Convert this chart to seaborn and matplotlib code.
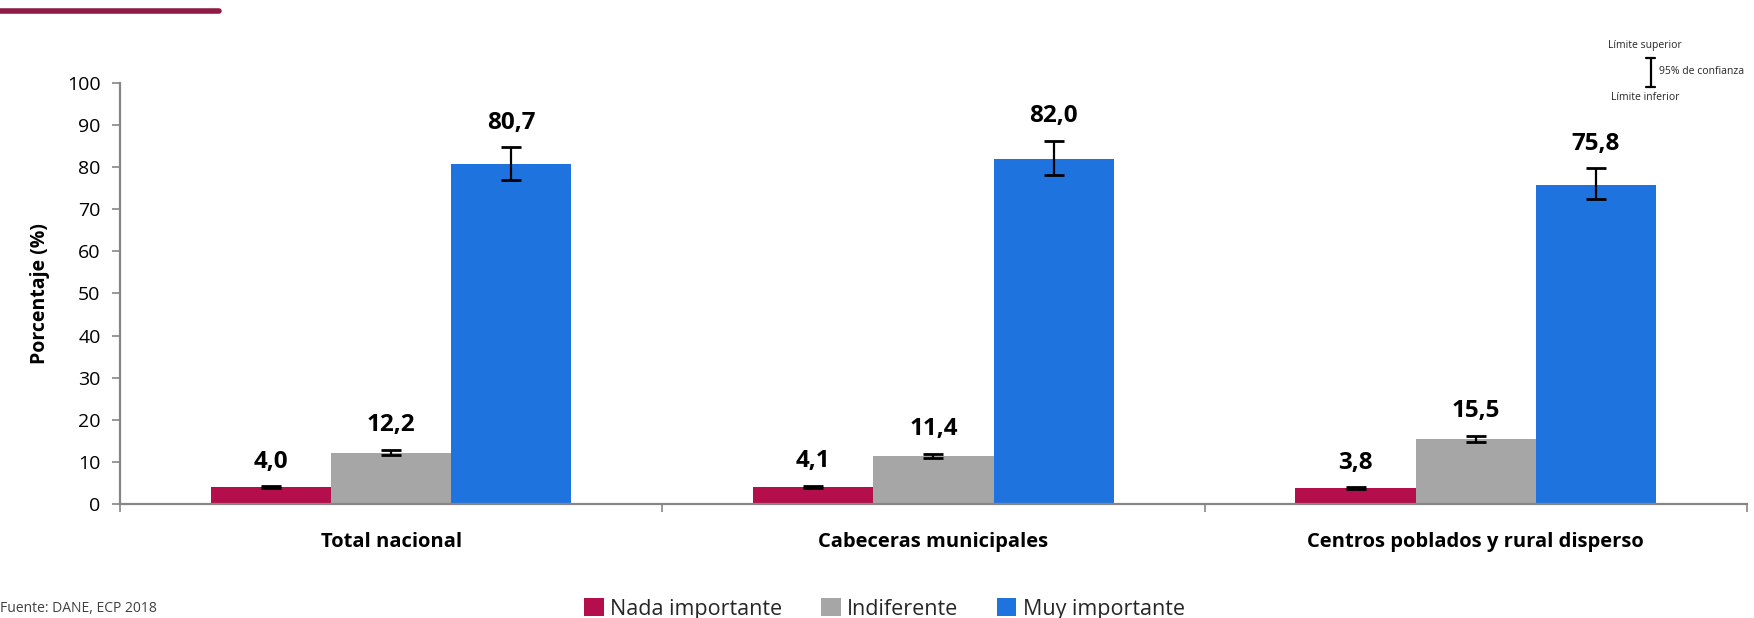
import pandas as pd
import matplotlib.pyplot as plt
import seaborn as sns
import numpy as np
from matplotlib.lines import Line2D

categorias = ['Total nacional', 'Cabeceras municipales', 'Centros poblados y rural disperso']
respuestas = ['Nada importante', 'Indiferente', 'Muy importante']
nada = [4.0, 4.1, 3.8]
indiferente = [12.2, 11.4, 15.5]
muy = [80.7, 82.0, 75.8]
# limites del intervalo de confianza (95%)
nada_inf = [3.8, 3.9, 3.6]
nada_sup = [4.2, 4.3, 4.0]
indif_inf = [11.6, 10.9, 14.8]
indif_sup = [12.9, 11.9, 16.2]
muy_inf = [77.0, 78.1, 72.4]
muy_sup = [84.7, 86.3, 79.8]
colores = ['#B50E4C', '#A6A6A6', '#1F73DF']

df = pd.DataFrame({
    'Categoria': categorias * 3,
    'Respuesta': np.repeat(respuestas, 3),
    'Valor': nada + indiferente + muy,
    'inf': nada_inf + indif_inf + muy_inf,
    'sup': nada_sup + indif_sup + muy_sup,
})

sns.set_style('white')
plt.rcParams['font.family'] = ['Open Sans', 'DejaVu Sans']

fig = plt.figure(figsize=(17.54, 6.18), dpi=100)
ax = fig.add_axes([0.0684, 0.1845, 0.9276, 0.6812])
sns.barplot(data=df, x='Categoria', y='Valor', hue='Respuesta', order=categorias,
            hue_order=respuestas, palette=colores, width=0.665, errorbar=None,
            saturation=1, linewidth=0, ax=ax)

# error bars and labels over each bar
bars = [p for p in ax.patches if p.get_height() > 0][:9]
for p, (_, row) in zip(bars, df.iterrows()):
    xc = p.get_x() + p.get_width() / 2
    v = row['Valor']
    ax.errorbar(xc, v, yerr=[[v - row['inf']], [row['sup'] - v]], fmt='none',
                ecolor='black', elinewidth=1.6, capsize=7, capthick=2)
    ax.annotate(f"{v:.1f}".replace('.', ','), (xc, row['sup']), xytext=(0, 9),
                textcoords='offset points', ha='center', va='bottom',
                fontsize=17.5, fontweight='bold', color='black')

ax.set_ylim(0, 100)
ax.set_xlim(-0.5, 2.5)
ax.set_yticks(range(0, 101, 10))
ax.tick_params(axis='y', labelsize=14, length=6, width=1.2, color='#868686', left=True, pad=8)
ax.tick_params(axis='x', which='major', length=0, pad=20)
ax.set_xticks([-0.5, 0.5, 1.5, 2.5], minor=True)
ax.tick_params(axis='x', which='minor', length=6, width=1.2, color='#868686', bottom=True)
for lab in ax.get_xticklabels():
    lab.set_fontweight('bold')
    lab.set_fontsize(14.5)
    lab.set_color('black')
for lab in ax.get_yticklabels():
    lab.set_color('black')
ax.set_xlabel('')
ax.set_ylabel('Porcentaje (%)', fontsize=14, fontweight='bold', labelpad=12, color='black')
sns.despine(ax=ax)
for s in ['left', 'bottom']:
    ax.spines[s].set_color('#868686')
    ax.spines[s].set_linewidth(1.6)

ax.legend(loc='upper center', bbox_to_anchor=(0.47, -0.178), ncol=3, frameon=False,
          fontsize=15.5, handlelength=0.9, handleheight=0.9, handletextpad=0.3, columnspacing=1.8)

# linea decorativa superior
fig.add_artist(Line2D([0, 0.125], [0.983, 0.983], color='#8E1A45', linewidth=4))

# leyenda del intervalo
fig.text(0.938, 0.926, 'Límite superior', fontsize=7.5, ha='center', va='center')
fig.add_artist(Line2D([0.941, 0.941], [0.859, 0.906], color='black', linewidth=1.6))
fig.add_artist(Line2D([0.9385, 0.9435], [0.906, 0.906], color='black', linewidth=1.6))
fig.add_artist(Line2D([0.9385, 0.9435], [0.859, 0.859], color='black', linewidth=1.6))
fig.text(0.946, 0.884, '95% de confianza', fontsize=7.5, ha='left', va='center')
fig.text(0.938, 0.843, 'Límite inferior', fontsize=7.5, ha='center', va='center')

fig.text(0.0, 0.004, 'Fuente: DANE, ECP 2018', fontsize=10, color='#404040', ha='left', va='bottom')

fig.savefig('out.png', dpi=100)
